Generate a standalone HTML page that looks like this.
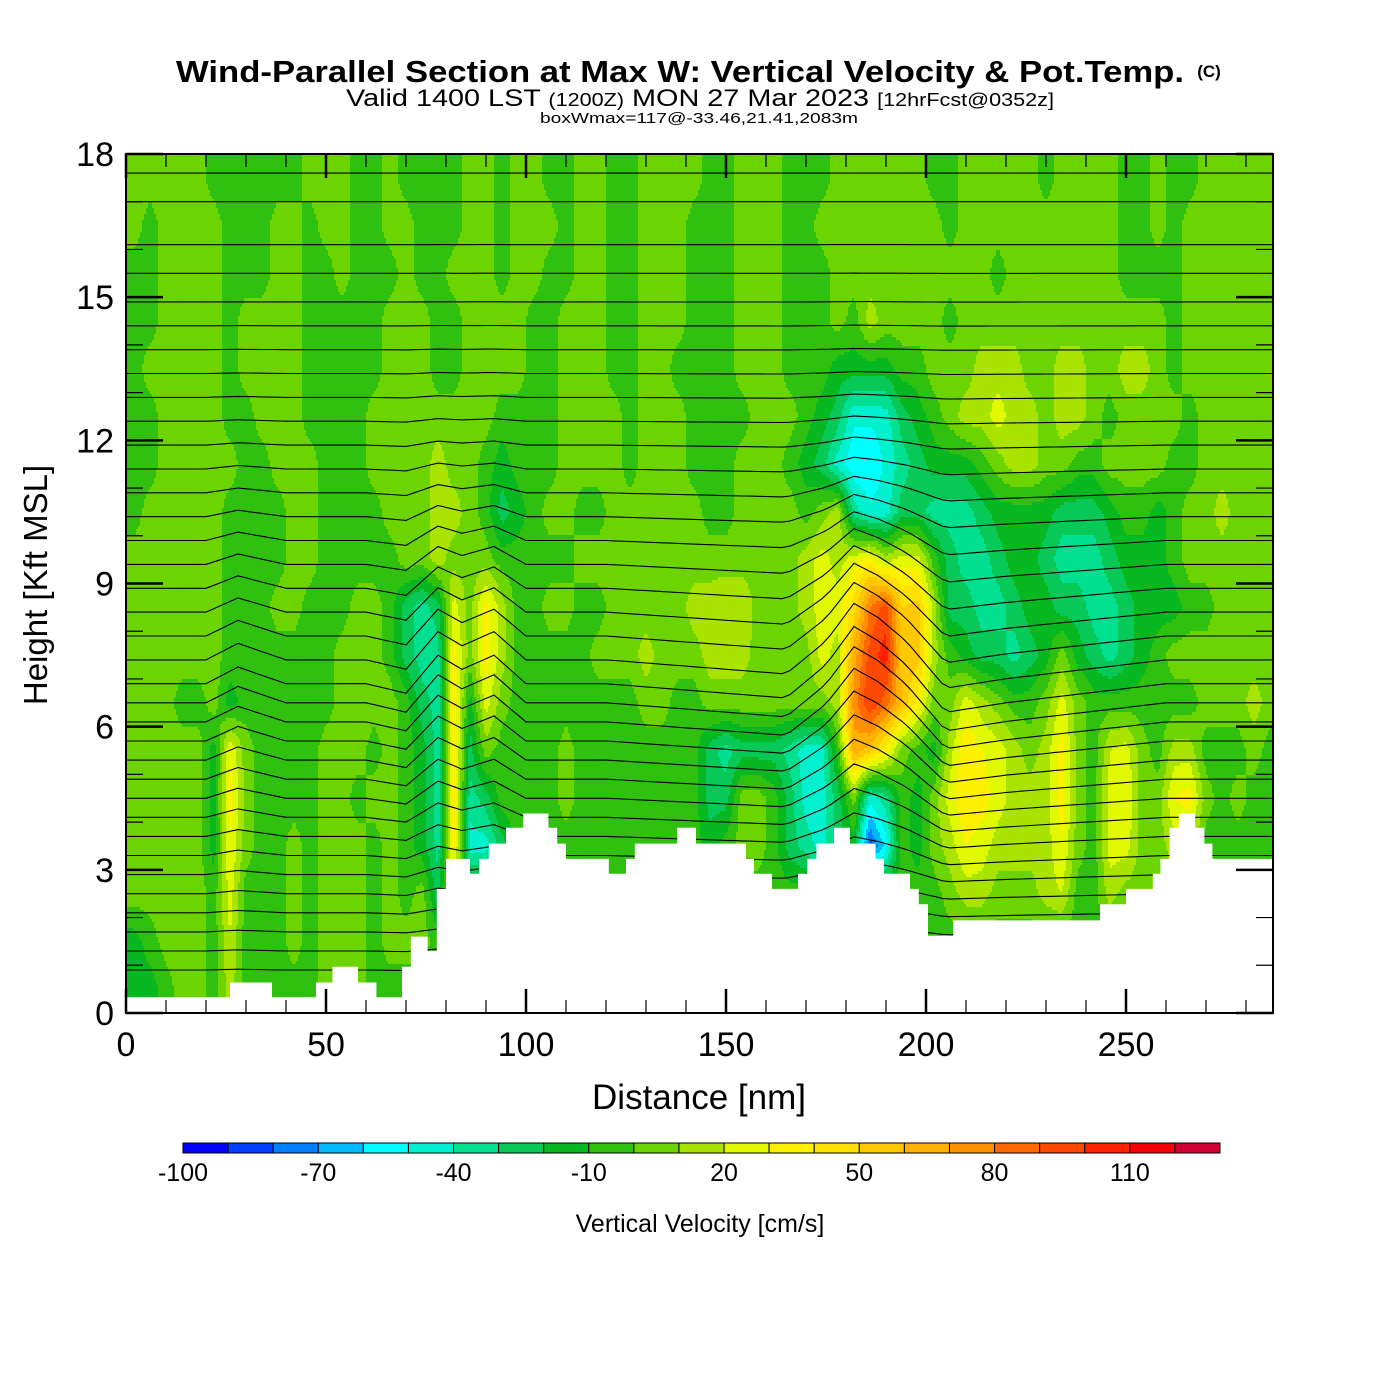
<!DOCTYPE html>
<html><head><meta charset="utf-8"><style>
html,body{margin:0;padding:0;background:#fff;}
svg{display:block;font-family:"Liberation Sans",Arial,sans-serif;}
</style></head><body>
<svg id="chart" width="1400" height="1400" viewBox="0 0 1400 1400" xmlns="http://www.w3.org/2000/svg">
<rect x="0" y="0" width="1400" height="1400" fill="#fff"/>
<text x="680" y="82" text-anchor="middle" font-size="31" font-weight="bold" textLength="1008" lengthAdjust="spacingAndGlyphs">Wind-Parallel Section at Max W: Vertical Velocity &amp; Pot.Temp.</text>
<text x="1209" y="77" text-anchor="middle" font-size="17" font-weight="bold">(C)</text>
<text x="700" y="106" text-anchor="middle" font-size="24" textLength="708" lengthAdjust="spacingAndGlyphs">Valid 1400 LST <tspan font-size="18">(1200Z)</tspan> MON 27 Mar 2023 <tspan font-size="18">[12hrFcst@0352z]</tspan></text>
<text x="699" y="123" text-anchor="middle" font-size="15" textLength="318" lengthAdjust="spacingAndGlyphs">boxWmax=117@-33.46,21.41,2083m</text>
<defs><clipPath id="plotclip"><rect x="126" y="154" width="1147" height="859"/></clipPath></defs>
<g id="field" clip-path="url(#plotclip)"></g>
<g id="contours" clip-path="url(#plotclip)"></g>
<g id="terrain" clip-path="url(#plotclip)"></g>
<g id="axes"></g>
<g id="colorbar"></g>
<text x="699" y="1109" text-anchor="middle" font-size="35">Distance [nm]</text>
<text transform="translate(47,585) rotate(-90)" text-anchor="middle" font-size="33">Height [Kft MSL]</text>
<text x="700" y="1232" text-anchor="middle" font-size="25">Vertical Velocity [cm/s]</text>
</svg>
<script>
// ---- data ----
const colCenters = [2,6,10,14,18,22,26,30,34,38,42,46,50,54,58,62,66,70,74,78,82,86,90,94,98,102,106,110,114,118,122,126,130,134,138,142,146,150,154,158,162,166,170,174,178,182,186,190,194,198,202,206,210,214,218,222,226,230,234,238,242,246,250,254,258,262,266,270,274,278,282,286];
const rowCenters = [0.5,1.5,2.5,3.5,4.5,5.5,6.5,7.5,8.5,9.5,10.5,11.5,12.5,13.5,14.5,15.5,16.5,17.5];
const w17 = [5,5,5,5,5,-5,-5,-5,-5,-5,-5,5,5,5,-5,-5,5,-5,-5,-5,-5,5,5,-5,5,5,-5,-5,5,5,-5,-5,5,5,5,5,-5,-5,5,5,5,-5,-5,-5,5,5,5,5,5,5,-5,-5,5,5,5,5,5,-5,5,5,5,5,-5,-5,5,-5,-5,5,5,5,5,5];
const w16 = [5,-5,5,5,5,5,-5,-5,-5,5,5,-5,5,5,-5,-5,5,5,-5,-5,-5,5,5,-5,5,5,5,-5,5,5,-5,-5,5,5,5,-5,-5,-5,5,5,5,-5,-5,5,5,5,5,5,5,5,5,-5,5,5,5,5,5,5,5,5,5,5,-5,-5,5,-5,5,5,5,5,5,5];
const w15 = [-5,-5,5,5,5,5,-5,-5,-5,5,5,-5,-5,5,-5,-5,-5,5,-5,-5,5,5,5,-5,5,5,-5,-5,5,5,-5,-5,5,5,5,-5,-5,-5,5,5,5,-5,-5,-5,5,5,5,5,5,5,5,5,5,5,-5,5,5,5,5,5,5,5,-5,-5,-5,-5,5,5,5,5,5,5];
const w14 = [-5,-5,5,5,5,5,-5,5,5,5,5,-5,-5,-5,-5,-5,5,5,5,-5,-5,5,5,5,5,-5,-5,5,5,5,-5,-5,5,5,5,-5,-5,-5,5,5,5,-5,-5,-5,5,-5,15,5,5,5,5,-5,5,5,5,5,5,5,5,5,5,5,5,5,5,-5,5,5,5,5,5,5];
const w13 = [-5,5,5,5,5,5,-5,5,5,5,5,-5,-5,-5,-5,-5,5,5,5,-5,-5,5,5,5,5,-5,-5,5,5,5,-5,-5,5,5,-5,-5,-5,-5,5,5,5,-5,-5,-5,-15,-15,-15,-15,-5,-5,5,5,5,15,15,15,5,5,15,15,5,5,15,15,5,-5,5,5,5,5,5,5];
const w12 = [-5,-5,5,5,5,5,-5,-5,5,5,5,-5,-5,-5,-5,5,5,5,5,5,5,5,5,-5,-5,-5,-5,5,5,5,5,-5,5,5,5,-5,-5,-5,-5,5,5,5,-5,-15,-25,-48,-48,-45,-25,-15,-5,5,15,15,25,15,15,5,15,15,5,-5,5,5,5,5,-5,5,5,5,5,5];
const w11 = [-5,-5,5,5,5,5,5,-5,-5,5,5,5,-5,-5,-5,5,5,5,5,15,5,5,-5,-15,-5,-5,-5,5,5,5,5,-5,5,5,5,-5,-5,-5,5,5,5,-5,-15,-25,-45,-58,-58,-48,-35,-25,-15,-15,-15,-5,5,15,15,5,5,-5,-5,5,5,5,5,-5,-5,5,5,5,5,5];
const w10 = [-5,5,5,5,5,5,-5,-5,-5,-5,5,5,-5,-5,-5,-5,5,5,5,15,15,5,-5,-25,-15,-5,5,5,-5,-5,5,5,5,5,5,5,-5,-5,5,5,5,5,-5,5,15,-35,-48,-45,-25,-25,-35,-35,-35,-25,-15,-15,-15,-15,-25,-25,-25,-15,-5,-5,-15,-5,5,5,15,5,5,5];
const w9 = [5,5,5,5,5,5,-5,-5,-5,-5,5,5,-5,-5,-5,-5,-5,5,5,15,5,5,5,-5,-5,-5,-5,-5,5,5,5,5,5,5,5,5,5,5,5,5,5,5,15,25,15,25,35,15,25,25,-5,-25,-35,-35,-25,-15,-15,-25,-35,-35,-35,-25,-15,-15,-15,-5,5,5,5,5,5,5];
const w8 = [5,5,5,5,5,5,-5,-5,-5,5,5,-5,-5,-5,5,5,-5,-25,-35,-25,25,5,35,15,-5,-5,5,5,-5,-5,5,5,5,5,5,15,15,20,20,5,5,5,15,25,25,45,80,95,50,55,15,-25,-25,-35,-35,-25,-15,-15,-25,-25,-35,-35,-25,-15,-15,-15,-5,-5,5,5,5,5];
const w7 = [5,5,5,5,5,5,-5,-5,-5,-5,-5,-5,-5,5,5,5,-5,-25,-35,-35,35,5,35,15,-5,-5,-5,-5,-5,5,5,5,15,5,5,5,15,15,15,5,5,5,5,25,15,65,95,105,55,55,15,-5,-15,-25,-25,-35,-25,-15,5,-15,-25,-35,-25,-15,-5,5,5,5,5,5,5,5];
const w6 = [5,5,5,-5,-5,5,-15,-5,-5,-5,-5,-5,-5,5,5,5,5,-5,-25,-35,40,-15,25,5,-5,-5,-5,-5,-5,-5,-5,-5,5,5,-5,-5,5,5,5,5,5,5,5,5,15,75,100,85,60,35,5,5,25,15,5,-5,-5,5,25,5,-5,-5,-5,-5,-5,-5,-5,5,5,5,15,5];
const w5 = [5,5,5,5,5,-15,30,5,-5,-5,-5,-5,5,5,5,-5,5,-5,-15,-35,40,-25,5,-5,-5,-5,-5,5,-5,-5,-5,-5,-5,-5,-5,-5,-25,-35,-25,-25,-25,-35,-45,-45,-5,65,55,35,5,-5,-15,15,40,30,25,15,5,15,35,5,-5,20,25,5,-5,15,15,-5,-5,-5,5,-5];
const w4 = [5,5,5,5,5,-15,35,5,-5,-5,-5,-5,5,5,-5,5,5,-5,-15,-35,40,-35,-25,-5,-5,-5,-5,5,-5,-5,-5,-5,-5,-5,-5,-5,-25,-25,5,5,-5,-25,-45,-45,-25,5,-45,-35,-5,-15,5,25,40,35,25,15,15,15,35,5,-5,25,30,5,5,30,35,5,-5,5,-5,-5];
const w3 = [5,5,5,5,5,-15,30,5,-5,-5,5,-5,5,5,5,-5,5,-5,-15,-35,35,-45,-45,-25,-5,-5,-5,-5,-5,-5,-5,-5,-5,-5,-5,-5,-15,-5,5,5,-5,-25,-35,-45,-25,-15,-85,-55,-5,-15,5,15,30,25,15,15,15,15,30,5,-5,25,25,5,5,15,15,-5,-5,-5,-5,-5];
const w2 = [5,5,5,5,5,-5,25,-5,-5,-5,5,-5,5,5,5,-5,5,-5,5,-25,25,-5,-5,-5,-5,-5,-5,-5,-5,-5,-5,-5,-5,-5,-5,-5,-5,-5,-5,-5,-5,-5,-5,-5,-5,-5,-5,-5,-5,-5,-5,5,15,15,5,5,5,15,20,-5,-5,15,5,5,5,5,5,-5,-5,-5,-5,-5];
const w1 = [-15,-5,5,5,5,-5,20,-5,-5,-5,5,-5,5,5,5,-5,5,5,5,-5,-5,-5,-5,-5,-5,-5,-5,-5,-5,-5,-5,-5,-5,-5,-5,-5,-5,-5,-5,-5,-5,-5,-5,-5,-5,-5,-5,-5,-5,-5,-5,-5,-5,-5,-5,-5,-5,-5,-5,-5,-5,-5,-5,-5,-5,-5,-5,-5,-5,-5,-5,-5];
const w0 = [-15,-15,-5,5,5,-5,15,-5,-5,-5,-5,-5,5,5,5,-5,-5,-5,-5,-5,-5,-5,-5,-5,-5,-5,-5,-5,-5,-5,-5,-5,-5,-5,-5,-5,-5,-5,-5,-5,-5,-5,-5,-5,-5,-5,-5,-5,-5,-5,-5,-5,-5,-5,-5,-5,-5,-5,-5,-5,-5,-5,-5,-5,-5,-5,-5,-5,-5,-5,-5,-5];
const wGrid = [w0,w1,w2,w3,w4,w5,w6,w7,w8,w9,w10,w11,w12,w13,w14,w15,w16,w17];
const terrainStart = [0,26,36.5,47.5,51.6,58,62.6,69,71.2,75.4,77.7,80,86,88.3,90.7,95,99.3,105.6,107.8,110,120.7,125,127.2,137.8,142.5,155,157,161.5,168,170.3,172.6,177,181,187.4,189.5,196,198.2,200.5,206.8,243.5,250,256.7,258.6,260.9,263.2,267.3,269.6,271.6];
const terrainHeight = [0.33,0.64,0.33,0.64,0.97,0.64,0.33,0.97,1.6,1.3,2.6,3.23,2.92,3.23,3.55,3.88,4.18,3.88,3.55,3.23,2.92,3.23,3.55,3.88,3.55,3.23,2.92,2.6,2.92,3.23,3.55,3.88,3.55,3.23,2.92,2.6,2.28,1.62,1.94,2.28,2.6,2.92,3.23,3.88,4.18,3.88,3.55,3.23];
const colorLevels = [-100,-90,-80,-70,-60,-50,-40,-30,-20,-10,0,10,20,30,40,50,60,70,80,90,100,110,120,130];
const colorFills = ["#0000ff","#0040ff","#0080ff","#00b8ff","#00ffff","#00f0d0","#00e090","#08c858","#08b820","#30c010","#6cd400","#a8e400","#e0f800","#fff000","#ffe000","#ffc800","#ffb000","#ff9000","#ff6800","#ff4800","#ff2000","#f80008","#d00030"];
const cbarLabels = [-100,-70,-40,-10,20,50,80,110];
const thetaBaseHeights = [17.6,17.0,16.1,15.5,14.9,14.4,13.9,13.4,12.9,12.4,11.9,11.4,10.9,10.4,9.9,9.4,8.9,8.4,7.9,7.4,6.9,6.5,6.1,5.7,5.3,4.9,4.5,4.1,3.7,3.3,2.9,2.5,2.1,1.7,1.3,0.9];
const thetaDispX = [0,20,28,40,60,70,78,84,92,100,120,150,165,175,182,188,195,205,220,240,260,287];
const thetaDispKft = [0,0,0.35,0,0,-0.2,0.6,0.3,0.6,0,0,-0.2,-0.3,0.4,1.2,0.9,0.4,-0.6,-0.4,-0.2,0,0];
const xTicks = [0,50,100,150,200,250];
const yTicks = [0,3,6,9,12,15,18];

// ---- scales ----
const X0=126, X1=1273, Y0=1013, Y1=154, XMAX=286.75, YMAX=18;
const xs = d => X0 + d/XMAX*(X1-X0);
const ys = h => Y0 - h/YMAX*(Y0-Y1);
const NS="http://www.w3.org/2000/svg";
function mk(tag, attrs, parent){const e=document.createElementNS(NS,tag);for(const k in attrs)e.setAttribute(k,attrs[k]);parent.appendChild(e);return e;}
function colorOf(v){let i=0;while(i<colorFills.length-1 && v>=colorLevels[i+1])i++;return colorFills[i];}
function sample(d,h){
  const nc=colCenters.length, nr=rowCenters.length;
  let fx=(d-colCenters[0])/(colCenters[1]-colCenters[0]); fx=Math.max(0,Math.min(nc-1,fx));
  let fy=(h-rowCenters[0])/(rowCenters[1]-rowCenters[0]); fy=Math.max(0,Math.min(nr-1,fy));
  const i0=Math.min(nc-2,Math.floor(fx)), j0=Math.min(nr-2,Math.floor(fy));
  const tx=fx-i0, ty=fy-j0;
  const a=wGrid[j0][i0], b=wGrid[j0][i0+1], c=wGrid[j0+1][i0], e=wGrid[j0+1][i0+1];
  return (a*(1-tx)+b*tx)*(1-ty)+(c*(1-tx)+e*tx)*ty;
}
// ---- field ----
const field=document.getElementById('field');
const SX=2, SY=3;
function emitCell(x0,x1,py,c){
  const r=mk('rect',{x:x0,y:py,width:x1-x0+0.6,height:SY+0.6,fill:c},field);
  
  
}
for(let py=Y1; py<Y0; py+=SY){
  const h=(Y0-(py+SY/2))/(Y0-Y1)*YMAX;
  let runStart=X0, runColor=null;
  let px=X0;
  for(; px<X1; px+=SX){
    const d=(px+SX/2-X0)/(X1-X0)*XMAX;
    const col = colorOf(sample(d,h));
    if(col!==runColor){
      if(runColor) emitCell(runStart,px,py,runColor);
      runStart=px; runColor=col;
    }
  }
  if(runColor) emitCell(runStart,X1+2,py,runColor);
}
// ---- contours ----
const cont=document.getElementById('contours');
function disp(d){for(let k=0;k<thetaDispX.length-1;k++){if(d<=thetaDispX[k+1]){const t=(d-thetaDispX[k])/(thetaDispX[k+1]-thetaDispX[k]);return thetaDispKft[k]*(1-t)+thetaDispKft[k+1]*t;}}return 0;}
thetaBaseHeights.forEach((hb)=>{
  const f=Math.exp(-Math.pow((hb-7)/3.5,2));
  let dstr='';
  for(let d=0; d<=288; d+=2){
    const h=hb+disp(d)*f;
    dstr+=(d===0?'M':'L')+xs(d).toFixed(1)+','+ys(h).toFixed(1);
  }
  const p=mk('path',{d:dstr,fill:'none',stroke:'#000','stroke-width':1.1},cont);
  
  
});
// ---- terrain ----
const terr=document.getElementById('terrain');
let tp='M'+xs(0)+','+(Y0+2);
terrainStart.forEach((s,k)=>{
  const e = k<terrainStart.length-1 ? terrainStart[k+1] : XMAX+1;
  tp+='L'+xs(s).toFixed(1)+','+ys(terrainHeight[k]).toFixed(1)+'L'+xs(e).toFixed(1)+','+ys(terrainHeight[k]).toFixed(1);
});
tp+='L'+xs(XMAX+1)+','+(Y0+2)+'Z';
const tpath=mk('path',{d:tp,fill:'#fff',stroke:'none'},terr);


// ---- axes ----
const ax=document.getElementById('axes');
const frame=mk('rect',{x:X0,y:Y1,width:X1-X0,height:Y0-Y1,fill:'none',stroke:'#000','stroke-width':2},ax);


for(let d=0; d<=280; d+=10){
  const major=d%50===0, L=major?24:13, x=xs(d);
  mk('line',{x1:x,y1:Y0,x2:x,y2:Y0-L,stroke:'#000','stroke-width':major?2.5:1.2},ax);
  mk('line',{x1:x,y1:Y1,x2:x,y2:Y1+L,stroke:'#000','stroke-width':major?2.5:1.2},ax);
}
for(let h=0; h<=18; h+=1){
  const major=h%3===0, L=major?37:17, y=ys(h);
  mk('line',{x1:X0,y1:y,x2:X0+L,y2:y,stroke:'#000','stroke-width':major?2.5:1.2},ax);
  mk('line',{x1:X1,y1:y,x2:X1-L,y2:y,stroke:'#000','stroke-width':major?2.5:1.2},ax);
}
xTicks.forEach(v=>{
  const t=mk('text',{x:xs(v),y:1056,'text-anchor':'middle','font-size':34},ax);
  t.textContent=v;
  
  
});
yTicks.forEach(v=>{
  const t=mk('text',{x:114,y:ys(v)+12,'text-anchor':'end','font-size':34},ax);
  t.textContent=v;
  
  
});
// ---- colorbar ----
const cb=document.getElementById('colorbar');
const CB0=183, CB1=1220, CBY=1143, CBH=10;
const bw=(CB1-CB0)/colorFills.length;
colorFills.forEach((c,k)=>{
  const r=mk('rect',{x:CB0+k*bw,y:CBY,width:bw,height:CBH,fill:c,stroke:'#000','stroke-width':1},cb);
  
  
});
cbarLabels.forEach(v=>{
  const k=colorLevels.indexOf(v);
  const t=mk('text',{x:CB0+k*bw,y:1181,'text-anchor':'middle','font-size':25},cb);
  t.textContent=v;
  
  
});
</script>
</body></html>
